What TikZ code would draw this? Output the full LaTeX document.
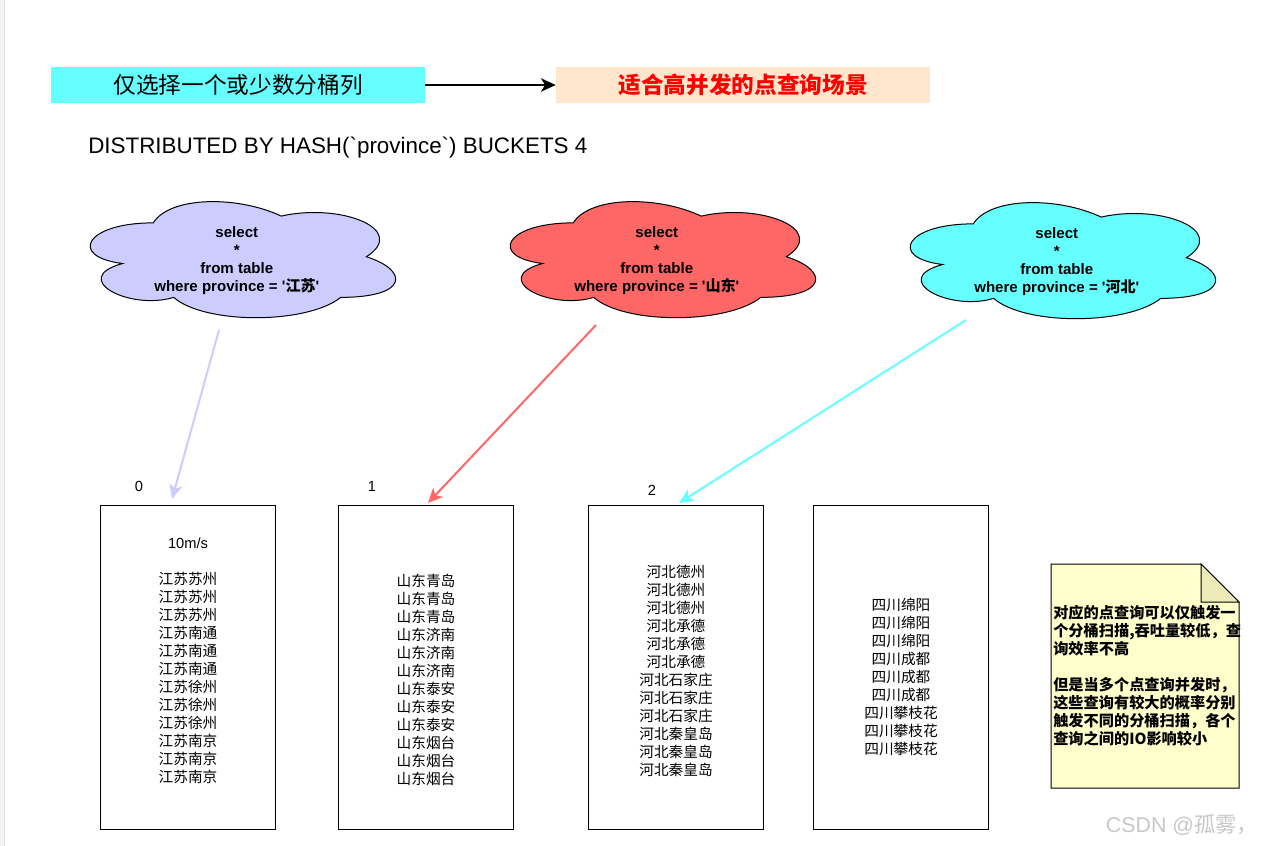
\documentclass[tikz,border=0pt]{standalone}
\usepackage{fontspec}
\setmainfont{Liberation Sans}[Ligatures=TeXOff]
\newfontfamily\cjk{Noto Sans CJK SC}[Ligatures=TeXOff]
\usetikzlibrary{arrows.meta}

% colours as r g b
\definecolor{r102g255b255}{RGB}{102,255,255}
\definecolor{r255g230b204}{RGB}{255,230,204}
\definecolor{r255g0b0}{RGB}{255,0,0}
\definecolor{r204g204b255}{RGB}{204,204,255}
\definecolor{r255g102b102}{RGB}{255,102,102}
\definecolor{r255g255b204}{RGB}{255,255,204}
\definecolor{r238g235b185}{RGB}{238,235,185}

\tikzset{
  headbox/.style={minimum width=280.5pt, minimum height=27pt, inner sep=0pt,
    font=\cjk\fontsize{17}{20}\selectfont},
  bucketbox/.style={draw, line width=0.75pt, minimum width=131.25pt,
    minimum height=243pt, inner sep=0pt},
  bucketlist/.style={align=center, inner sep=0pt,
    font=\cjk\fontsize{11}{13.5}\selectfont},
  bucketno/.style={inner sep=0pt, font=\fontsize{11}{13}\selectfont},
  querytext/.style={align=center, inner sep=0pt,
    font=\bfseries\fontsize{11.3}{13.5}\selectfont},
  hashlink/.style={line width=1.5pt, -{Stealth[length=11pt,width=10pt,inset=3pt]}},
}

% query cloud: name, top left, fill, province
\newcommand{\querycloud}[4]{%
  \begin{scope}[shift={#2}, x=255.75pt, y=-101.6pt]
    \draw [line width=0.75pt, fill=#3] (0.25,0.25)
      .. controls (0.05,0.25) and (0,0.5) .. (0.16,0.55)
      .. controls (0,0.66) and (0.18,0.9) .. (0.31,0.8)
      .. controls (0.4,1) and (0.7,1) .. (0.8,0.8)
      .. controls (1,0.8) and (1,0.6) .. (0.875,0.5)
      .. controls (1,0.3) and (0.8,0.1) .. (0.625,0.2)
      .. controls (0.5,0.05) and (0.3,0.05) .. (0.25,0.25) -- cycle;%
    \node [querytext] (#1) at (0.495,0.531)
      {select\\*\\from table\\where province = '{\cjk\bfseries #4}'};%
  \end{scope}}

\begin{document}
\begin{tikzpicture}[x=0.75pt, y=-0.75pt]
\useasboundingbox (0,0) rectangle (1272,846);

% page edge
\fill [black!5] (0,0) rectangle (4,846);
\draw [black!12] (4.5,0) -- (4.5,846);

% Heading boxes
\node [headbox, fill=r102g255b255] (h1) at (238,85) {仅选择一个或少数分桶列};
\node [headbox, fill=r255g230b204, text=r255g0b0, font=\cjk\bfseries\fontsize{17}{20}\selectfont]
  (h2) at (743,85) {适合高并发的点查询场景};
\draw [line width=1.5pt, -{Stealth[length=11pt,width=10pt,inset=3pt]}] (h1) -- (h2);

\node [anchor=west, inner sep=0pt, font=\fontsize{16.8}{20}\selectfont] (ddl) at (88,148)
  {DISTRIBUTED BY HASH(`province`) BUCKETS 4};

% Query clouds
\querycloud{q1}{(68,189)}{r204g204b255}{江苏}
\querycloud{q2}{(488,189)}{r255g102b102}{山东}
\querycloud{q3}{(888,190)}{r102g255b255}{河北}

% Buckets
\node [bucketbox] (b0) at (188,667) {};
\node [bucketbox] (b1) at (426,667) {};
\node [bucketbox] (b2) at (675.5,667) {};
\node [bucketbox] (b3) at (900.5,667) {};

\node [bucketno] (n0) at (139,486) {0};
\node [bucketno] (n1) at (372,486) {1};
\node [bucketno] (n2) at (652,490) {2};

\node [bucketlist] (t0) at (188,661) {{\rmfamily 10m/s}\\[13.5pt]
  江苏苏州\\江苏苏州\\江苏苏州\\江苏南通\\江苏南通\\江苏南通\\
  江苏徐州\\江苏徐州\\江苏徐州\\江苏南京\\江苏南京\\江苏南京};
\node [bucketlist] (t1) at (426,680) {山东青岛\\山东青岛\\山东青岛\\山东济南\\山东济南\\山东济南\\
  山东泰安\\山东泰安\\山东泰安\\山东烟台\\山东烟台\\山东烟台};
\node [bucketlist] (t2) at (676,671) {河北德州\\河北德州\\河北德州\\河北承德\\河北承德\\河北承德\\
  河北石家庄\\河北石家庄\\河北石家庄\\河北秦皇岛\\河北秦皇岛\\河北秦皇岛};
\node [bucketlist] (t3) at (901,677) {四川绵阳\\四川绵阳\\四川绵阳\\四川成都\\四川成都\\四川成都\\
  四川攀枝花\\四川攀枝花\\四川攀枝花};

% Query to bucket arrows
\coordinate (q1out) at (219,330);
\coordinate (q2out) at (596,325);
\coordinate (q3out) at (966,320);
\coordinate (b0in) at (172,499);
\coordinate (b1in) at (428,503);
\coordinate (b2in) at (679,503);
\draw [hashlink, r204g204b255] (q1out) -- (b0in);
\draw [hashlink, r255g102b102] (q2out) -- (b1in);
\draw [hashlink, r102g255b255] (q3out) -- (b2in);

% Note
\draw [line width=0.75pt, fill=r255g255b204] (1051,564) -- (1201,564) -- (1239,602)
  -- (1239,788) -- (1051,788) -- cycle;
\draw [line width=0.75pt, fill=r238g235b185] (1201,564) -- (1201,602) -- (1239,602) -- cycle;
\node [anchor=west, align=left, inner sep=0pt,
  font=\cjk\bfseries\fontsize{11.4}{13.5}\selectfont] (note) at (1053,676)
  {对应的点查询可以仅触发一\\个分桶扫描,吞吐量较低，查\\询效率不高\\[13.5pt]
   但是当多个点查询并发时，\\这些查询有较大的概率分别\\触发不同的分桶扫描，各个\\查询之间的IO影响较小};

% Watermark
\node [inner sep=0pt, text=black!22, font=\fontsize{16}{18}\selectfont] (mark) at (1182,825)
  {CSDN @{\cjk 孤雾，}};
\end{tikzpicture}
\end{document}
